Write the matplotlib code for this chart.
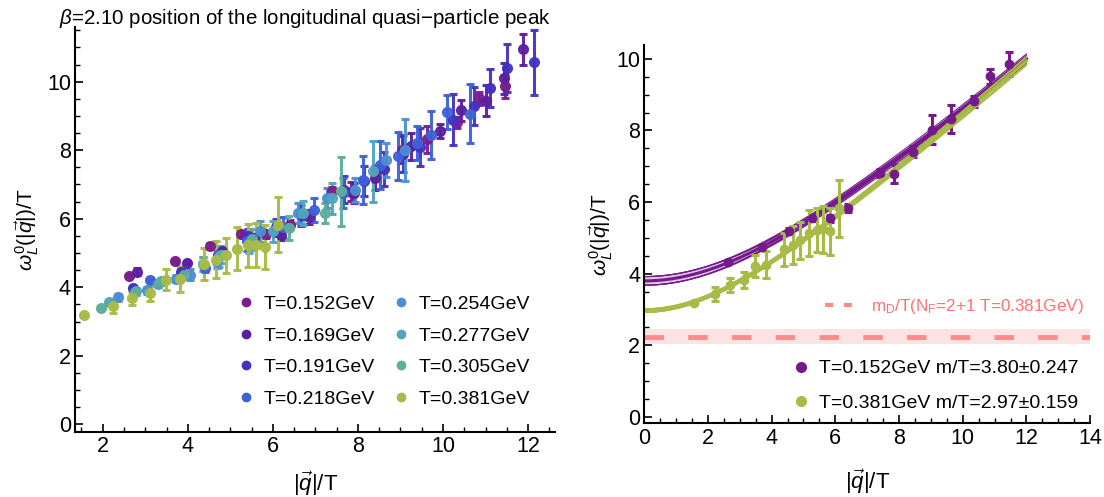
import matplotlib
matplotlib.use("Agg")
import matplotlib.pyplot as plt
from matplotlib.ticker import MultipleLocator
from matplotlib.lines import Line2D
import numpy as np

plt.rcParams['font.family'] = ['Liberation Sans', 'DejaVu Sans']
plt.rcParams['mathtext.fontset'] = 'custom'
plt.rcParams['mathtext.rm'] = 'Liberation Sans'
plt.rcParams['mathtext.it'] = 'Liberation Sans:italic'

# ---- left panel: all temperatures (q/T, omega/T, error) ----
temps = ['0.152', '0.169', '0.191', '0.218', '0.254', '0.277', '0.305', '0.381']
colors = ['#7a1e8c', '#5c1f9e', '#4630c0', '#3d62d8', '#4b8fd2', '#52a5bd', '#5eae9b', '#a9bb47']

q152 = [2.62, 3.69, 4.53, 5.26, 5.84, 6.41, 7.39, 7.83, 8.43, 9.03, 9.63, 10.34, 10.84, 11.46]
w152 = [4.34, 4.76, 5.20, 5.55, 5.55, 5.83, 6.81, 6.79, 7.41, 8.02, 8.32, 8.81, 9.51, 9.86]
e152 = [0.05, 0.05, 0.08, 0.08, 0.10, 0.12, 0.12, 0.27, 0.15, 0.40, 0.40, 0.15, 0.20, 0.33]

q169 = [2.81, 3.97, 4.80, 5.55, 6.19, 6.85, 7.90, 8.40, 9.24, 9.94, 10.42, 11.02, 11.43, 11.88]
w169 = [4.46, 4.72, 5.05, 5.45, 5.53, 6.05, 6.75, 7.20, 8.11, 8.57, 9.16, 9.45, 10.10, 10.95]
e169 = [0.10, 0.05, 0.10, 0.10, 0.15, 0.20, 0.30, 0.35, 0.40, 0.20, 0.30, 0.45, 0.45, 0.45]

q191 = [2.72, 3.85, 4.70, 5.42, 6.08, 6.65, 7.68, 8.15, 8.62, 9.05, 9.45, 10.23, 10.73, 11.10, 11.50, 12.14]
w191 = [3.98, 4.45, 4.95, 5.50, 5.75, 6.10, 6.85, 7.10, 7.45, 7.90, 8.10, 8.89, 9.28, 9.82, 10.40, 10.56]
e191 = [0.05, 0.08, 0.10, 0.20, 0.25, 0.30, 0.40, 0.45, 0.50, 0.55, 0.55, 0.75, 0.55, 0.55, 0.70, 0.95]

q218 = [3.12, 4.41, 5.40, 6.24, 6.97, 7.64, 8.12, 8.51, 8.93, 9.40, 9.72, 10.09, 10.63]
w218 = [4.20, 4.55, 5.35, 5.75, 6.26, 6.75, 7.14, 7.58, 7.82, 8.21, 8.45, 9.11, 9.07]
e218 = [0.05, 0.10, 0.30, 0.30, 0.35, 0.45, 0.70, 0.70, 0.70, 0.50, 0.70, 0.50, 0.85]

q254 = [2.35, 3.03, 3.72, 4.05, 4.69, 5.69, 6.58, 7.28, 7.93, 8.66, 9.10]
w254 = [3.71, 3.91, 4.25, 4.37, 4.75, 5.63, 6.17, 6.60, 6.85, 7.72, 8.00]
e254 = [0.10, 0.10, 0.10, 0.15, 0.20, 0.30, 0.30, 0.30, 0.35, 0.50, 0.90]

q277 = [2.14, 2.78, 3.30, 4.36, 4.73, 5.45, 6.00, 6.70, 7.40, 8.36]
w277 = [3.56, 3.88, 4.10, 4.68, 4.90, 5.30, 5.63, 6.17, 6.60, 7.38]
e277 = [0.05, 0.10, 0.10, 0.20, 0.30, 0.30, 0.30, 0.35, 0.45, 0.90]

q305 = [1.95, 2.76, 3.38, 3.90, 4.36, 4.78, 5.52, 6.39, 7.22, 7.61]
w305 = [3.39, 3.85, 4.17, 4.35, 4.68, 4.95, 5.40, 5.73, 6.17, 6.80]
e305 = [0.03, 0.08, 0.10, 0.12, 0.20, 0.25, 0.30, 0.35, 0.30, 1.00]

q381 = [1.55, 2.23, 2.70, 3.12, 3.48, 3.82, 4.39, 4.67, 4.90, 5.16, 5.42, 5.61, 5.82, 6.12]
w381 = [3.19, 3.44, 3.68, 3.83, 4.22, 4.25, 4.68, 4.80, 4.93, 5.13, 5.22, 5.24, 5.18, 5.83]
e381 = [0.03, 0.19, 0.19, 0.22, 0.30, 0.38, 0.46, 0.54, 0.51, 0.64, 0.62, 0.65, 0.65, 0.80]

series = [(q152, w152, e152), (q169, w169, e169), (q191, w191, e191), (q218, w218, e218),
          (q254, w254, e254), (q277, w277, e277), (q305, w305, e305), (q381, w381, e381)]

# ---- right panel: fit parameters  omega^2 = m^2 + a q^2 ----
fit_m = [3.80, 2.97]
fit_dm = [0.12, 0.05]
fit_a = [0.595, 0.625]
fit_da = [0.012, 0.015]
fit_labels = ['T=0.152GeV m/T=3.80\u00b10.247', 'T=0.381GeV m/T=2.97\u00b10.159']
fit_colors = ['#751a8a', '#a9bb47']
mD = 2.22
mD_lo, mD_hi = 2.03, 2.45

fig = plt.figure(figsize=(11.04, 4.97), dpi=100)
ax1 = fig.add_axes([0.068, 0.131, 0.435, 0.815])
ax2 = fig.add_axes([0.5835, 0.148, 0.404, 0.761])


def style(ax, pad, ypad):
    ax.spines['top'].set_visible(False)
    ax.spines['right'].set_visible(False)
    for s in ['left', 'bottom']:
        ax.spines[s].set_linewidth(1.5)
    ax.xaxis.set_major_locator(MultipleLocator(2))
    ax.xaxis.set_minor_locator(MultipleLocator(0.5))
    ax.yaxis.set_major_locator(MultipleLocator(2))
    ax.yaxis.set_minor_locator(MultipleLocator(0.5))
    ax.tick_params(which='major', direction='in', length=6, width=1.2, labelsize=15.5, pad=3)
    ax.tick_params(which='minor', direction='in', length=3.5, width=1.0)
    ax.set_xlabel(r'$|\vec{q}|$/T', fontsize=16, labelpad=pad)
    ax.set_ylabel(r'$\omega_L^0(|\vec{q}|)$/T', fontsize=15, labelpad=ypad)


# left panel
for (q, w, e), c in zip(series, colors):
    ax1.errorbar(q, w, yerr=e, fmt='o', color=c, ms=7, elinewidth=2.2,
                 capsize=3, capthick=2.2, alpha=0.95)
style(ax1, 9, 4)
ax1.set_xlim(1.35, 12.64)
ax1.set_ylim(-0.22, 11.6)
fig.text(0.053, 0.985, '$\\beta$=2.10 position of the longitudinal quasi\u2212particle peak',
         fontsize=14.8, ha='left', va='top')
handles = [Line2D([], [], ls='', marker='o', ms=6, color=c) for c in colors]
ax1.legend(handles, ['T=%sGeV' % t for t in temps], ncol=2, frameon=False,
           loc='upper left', bbox_to_anchor=(0.295, 0.38), fontsize=14,
           handletextpad=0.3, columnspacing=0.75, labelspacing=0.72, handlelength=1.2)

# right panel
qq = np.linspace(0, 12, 200)
for i, (qd, wd, ed) in enumerate([(q152, w152, e152), (q381, w381, e381)]):
    c = fit_colors[i]
    curves = []
    for sm in (-1, 0, 1):
        for sa in (-1, 0, 1):
            m = fit_m[i] + sm * fit_dm[i]
            a = fit_a[i] + sa * fit_da[i]
            curves.append(np.sqrt(m ** 2 + a * qq ** 2))
    curves = np.array(curves)
    ax2.fill_between(qq, curves.min(0), curves.max(0), color=c, alpha=0.25, lw=0)
    for cv in curves:
        ax2.plot(qq, cv, color=c, lw=0.8)
    ax2.plot(qq, curves[4], color=c, lw=2.2)
    ax2.errorbar(qd, wd, yerr=ed, fmt='o', color=c, ms=6, elinewidth=2.2,
                 capsize=3, capthick=2.2)

ax2.axhspan(mD_lo, mD_hi, color='#fde2e2', lw=0)
ax2.axhline(mD, color='#ff8a8a', lw=3.5, dashes=(4, 5))
style(ax2, 14, 1)
ax2.set_xlim(0, 14)
ax2.set_ylim(-0.18, 10.38)

mdl = ax2.legend([Line2D([], [], color='#ff8a8a', lw=3, dashes=(2, 2.5))],
                 [r'm$_\mathrm{D}$/T(N$_\mathrm{F}$=2+1 T=0.381GeV)'], frameon=False,
                 loc='center right', bbox_to_anchor=(1.02, 0.31), fontsize=12.3,
                 labelcolor='#ff7070', handlelength=2.2, handletextpad=0.5)
ax2.add_artist(mdl)
fh = [Line2D([], [], ls='', marker='o', ms=7, color=c) for c in fit_colors]
ax2.legend(fh, fit_labels, frameon=False, loc='lower right', bbox_to_anchor=(1.012, -0.015),
           fontsize=14, handletextpad=0.4, labelspacing=0.85, handlelength=1.0)

fig.savefig('out.png', dpi=100)
